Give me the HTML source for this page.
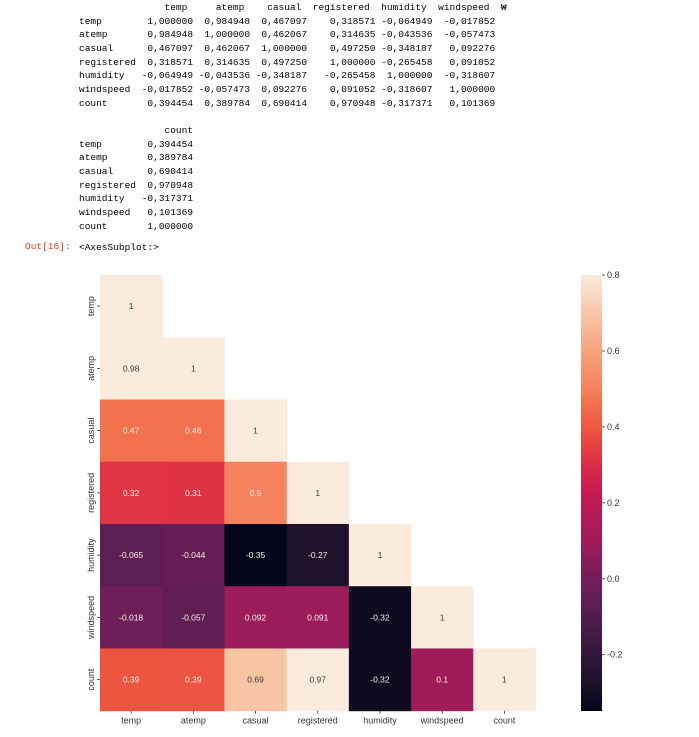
<!DOCTYPE html>
<html><head><meta charset="utf-8">
<style>
html,body{margin:0;padding:0;background:#fff;width:699px;height:737px;overflow:hidden;position:relative;}
pre{margin:0;position:absolute;font-family:"Liberation Mono","NanumGothic",monospace;font-size:9.5px;line-height:13.65px;color:#000;}
.out{position:absolute;left:25px;top:241px;font-family:"Liberation Mono",monospace;font-size:9.5px;color:#d84315;}
svg{position:absolute;left:0;top:0;}
svg text{font-family:"Liberation Sans","DejaVu Sans",sans-serif;}
</style></head><body>
<pre style="left:79px;top:1px;">               temp     atemp    casual  registered  humidity  windspeed  ₩
temp        1,000000  0,984948  0,467097    0,318571 -0,064949  -0,017852
atemp       0,984948  1,000000  0,462067    0,314635 -0,043536  -0,057473
casual      0,467097  0,462067  1,000000    0,497250 -0,348187   0,092276
registered  0,318571  0,314635  0,497250    1,000000 -0,265458   0,091052
humidity   -0,064949 -0,043536 -0,348187   -0,265458  1,000000  -0,318607
windspeed  -0,017852 -0,057473  0,092276    0,091052 -0,318607   1,000000
count       0,394454  0,389784  0,690414    0,970948 -0,317371   0,101369</pre>
<pre style="left:79px;top:124px;">               count
temp        0,394454
atemp       0,389784
casual      0,690414
registered  0,970948
humidity   -0,317371
windspeed   0,101369
count       1,000000</pre>
<div class="out">Out[16]:</div>
<pre style="left:79px;top:241px;">&lt;AxesSubplot:&gt;</pre>
<svg id="chart" width="699" height="737"></svg>
<script>
const labels = ["temp","atemp","casual","registered","humidity","windspeed","count"];
const row0 = [1];
const row1 = [0.984948,1];
const row2 = [0.467097,0.462067,1];
const row3 = [0.318571,0.314635,0.497250,1];
const row4 = [-0.064949,-0.043536,-0.348187,-0.265458,1];
const row5 = [-0.017852,-0.057473,0.092276,0.091052,-0.318607,1];
const row6 = [0.394454,0.389784,0.690414,0.970948,-0.317371,0.101369,1];
const rows = [row0,row1,row2,row3,row4,row5,row6];
const cbTicks = [0.8,0.6,0.4,0.2,0.0,-0.2];
const vmin = -0.348187, vmax = 0.8;

const NS="http://www.w3.org/2000/svg";
const svg=document.getElementById('chart');
const X0=100, Y0=275, W=435.5, H=435.7, n=labels.length;
const cw=W/n, ch=H/n;
const xPos=i=>X0+i*cw, yPos=j=>Y0+j*ch;
const stops=[[0,[3,5,26]],[0.068,[30,18,42]],[0.16,[60,26,66]],[0.247,[93,30,82]],[0.288,[110,30,88]],[0.383,[156,27,90]],[0.5,[200,25,82]],[0.582,[225,52,68]],[0.646,[238,85,65]],[0.712,[242,115,78]],[0.736,[245,130,92]],[0.82,[246,160,122]],[0.905,[247,196,165]],[1,[250,235,221]]];
function cmap(v){let t=(v-vmin)/(vmax-vmin);t=Math.max(0,Math.min(1,t));
 for(let k=1;k<stops.length;k++){if(t<=stops[k][0]){const a=stops[k-1],b=stops[k];const f=(t-a[0])/(b[0]-a[0]);
 const c=a[1].map((x,i)=>Math.round(x+(b[1][i]-x)*f));return `rgb(${c})`;}}return 'rgb(250,235,221)';}
function lum(v){let t=(v-vmin)/(vmax-vmin);return t>0.8;}
function el(tag,attrs,txt){const e=document.createElementNS(NS,tag);for(const k in attrs)e.setAttribute(k,attrs[k]);if(txt!==undefined)e.textContent=txt;svg.appendChild(e);return e;}
function fmt(v){return (+v.toPrecision(2)).toString();}
rows.forEach((r,j)=>r.forEach((v,i)=>{
 const rc=el('rect',{x:xPos(i),y:yPos(j),width:cw+0.5,height:ch+0.5,fill:cmap(v)});
 
 
 const t=el('text',{x:xPos(i)+cw/2,y:yPos(j)+ch/2+3,'text-anchor':'middle','font-size':'8.5',fill:lum(v)?'#3a3a3a':'#fbeee4'},fmt(v));
 
 
}));
labels.forEach((l,i)=>{
 el('line',{x1:xPos(i)+cw/2,x2:xPos(i)+cw/2,y1:Y0+H,y2:Y0+H+3,stroke:'#333','stroke-width':0.8});
 const t=el('text',{x:xPos(i)+cw/2,y:Y0+H+13,'text-anchor':'middle','font-size':'9',fill:'#333'},l);
 
 
 const yc=yPos(i)+ch/2;
 el('line',{x1:X0-3,x2:X0,y1:yc,y2:yc,stroke:'#333','stroke-width':0.8});
 const u=el('text',{x:0,y:0,'text-anchor':'middle','font-size':'9',fill:'#333',transform:`translate(${X0-6},${yc}) rotate(-90)`},l);
 
 
});
// colorbar
const CX=581,CW=21,CY0=275,CY1=711;
const cbY=v=>CY1-(v-vmin)/(vmax-vmin)*(CY1-CY0);
const defs=document.createElementNS(NS,'defs');svg.appendChild(defs);
const g=document.createElementNS(NS,'linearGradient');g.setAttribute('id','cbg');g.setAttribute('x1','0');g.setAttribute('x2','0');g.setAttribute('y1','1');g.setAttribute('y2','0');defs.appendChild(g);
stops.forEach(s=>{const st=document.createElementNS(NS,'stop');st.setAttribute('offset',s[0]);st.setAttribute('stop-color',`rgb(${s[1]})`);g.appendChild(st);});
const cb=el('rect',{x:CX,y:CY0,width:CW,height:CY1-CY0,fill:'url(#cbg)'});


cbTicks.forEach(v=>{const y=cbY(v);
 el('line',{x1:CX+CW,x2:CX+CW+3,y1:y,y2:y,stroke:'#333','stroke-width':0.8});
 const t=el('text',{x:CX+CW+5,y:y+3,'font-size':'9',fill:'#333'},v.toFixed(1));
 
 
});
</script>
</body></html>
